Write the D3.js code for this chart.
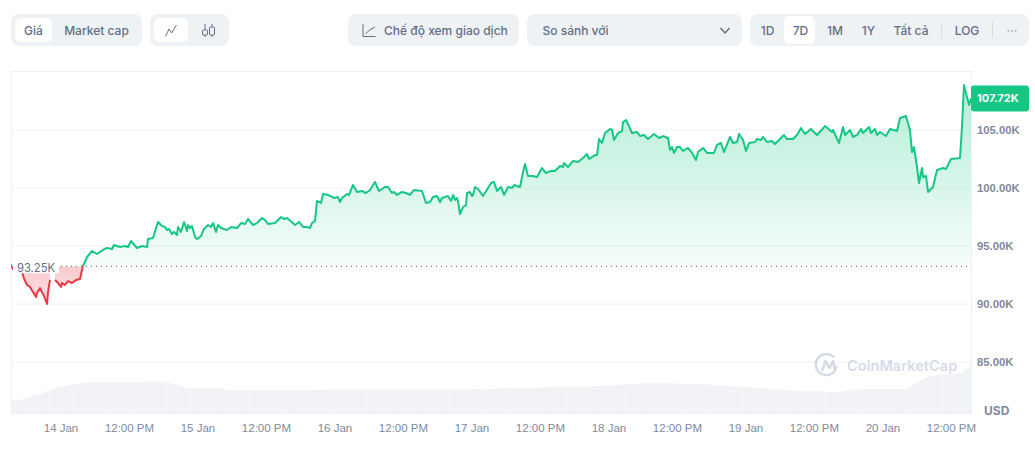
<!DOCTYPE html>
<html><head><meta charset="utf-8">
<script src="https://cdn.jsdelivr.net/npm/d3@7"></script>
<style>
html,body{margin:0;padding:0;background:#fff}
svg{display:block;font-family:Inter,"Noto Sans",sans-serif}
.domain,.tick line{display:none}
</style></head><body>
<svg id="c" width="1035" height="457"></svg>
<script>
// Hours since 14 Jan 00:00, and BTC price in thousands of USD (null = gap in the trace)
const priceHours=[-8.76,-8.41,-6.83,-6.48,-5.96,-5.43,-4.91,-4.38,-4.2,-3.68,-3.33,-2.98,-2.45,-2.28,-1.93,-1.49,-1.05,-.53,0,.18,.7,1.23,1.93,2.63,3.33,3.68,3.85,4.2,4.56,5.43,6.31,7.36,8.06,8.94,9.29,10.34,11.21,11.74,12.26,13.32,14.19,15.07,15.24,16.12,16.99,17.7,18.22,18.57,18.92,19.45,19.8,20.32,20.5,21.02,21.55,22.08,22.25,22.6,22.95,23.48,23.83,24.53,25.05,25.75,26.28,26.63,27.16,27.51,28.03,29.08,29.78,30.84,31.54,32.24,32.76,33.64,34.34,35.22,35.74,36.27,37.49,38.54,39.07,39.6,41,41.7,42.4,43.1,43.62,43.98,44.5,44.85,45.55,45.9,46.78,47.83,48.53,48.88,49.23,50.11,50.46,51.16,51.86,52.74,53.44,54.14,55.01,55.71,56.76,57.29,57.99,58.34,58.87,59.74,60.44,61.14,61.85,63.25,63.95,64.65,65.17,65.88,66.4,66.75,67.8,68.33,68.68,69.03,69.38,69.55,69.9,70.43,70.96,71.13,71.66,72.01,72.18,72.53,73.06,73.93,74.81,75.34,75.86,76.39,77.09,77.61,78.31,79.02,79.37,80.42,80.94,81.29,81.82,82.69,83.4,84.27,84.97,85.85,86.55,87.42,87.95,88.13,88.83,89.7,90.58,91.45,92.16,92.51,93.56,93.91,94.26,94.78,95.31,96.19,96.54,96.89,97.59,98.29,98.46,98.99,99.34,100.04,100.92,101.44,102.14,102.84,103.89,104.77,105.47,106.35,106.7,107.05,107.4,107.92,108.45,108.97,109.85,110.55,111.25,111.6,112.48,113.18,114.41,114.93,115.63,116.16,117.21,117.73,118.44,118.79,119.49,120.01,120.54,121.59,121.94,122.64,122.99,123.69,124.57,125.09,126.32,126.67,127.2,128.25,128.95,129.65,130.35,131.4,132.45,133.85,135.08,135.25,136.31,137.01,137.36,138.23,138.76,139.46,140.16,140.51,141.56,141.91,142.61,142.96,143.49,144.54,145.24,146.47,146.99,148.04,148.74,149.1,149.45,149.97,150.32,150.85,151.02,151.55,151.9,152.77,153.48,154.53,155.05,155.93,157.5,157.85,158.2,159.08,159.43];
const priceValues=[93.4,93,92.75,92.2,91.64,91.47,91.03,90.6,90.95,91.38,91.03,90.69,90,91,92.07,null,92.07,91.81,91.47,91.81,91.64,91.98,91.81,92.07,92.16,92.93,93.28,93.62,94.05,94.57,94.31,94.66,94.83,94.74,95.09,94.91,95,94.91,95.43,94.83,95,94.91,95.6,95.69,97.07,96.72,96.64,96.38,96.47,96.03,96.21,95.95,96.64,96.21,97.07,96.29,96.81,96.55,96.72,95.78,95.6,95.86,96.47,96.81,96.64,96.98,96.21,96.81,96.55,96.38,96.64,96.55,96.98,96.9,97.33,96.81,96.98,97.41,97.24,96.9,96.98,97.5,97.33,97.41,96.81,97.07,96.64,96.64,96.55,96.98,97.16,98.88,98.71,99.48,99.4,99.14,99.22,98.79,99.14,99.48,99.4,100.26,99.66,99.74,99.57,99.83,100.52,99.74,100.09,100.09,99.57,99.66,99.4,99.66,99.57,99.4,99.83,99.74,98.71,98.79,99.22,99.31,98.79,99.14,99.31,98.88,99.4,98.97,99.14,98.88,97.76,98.36,98.53,99.57,99.66,99.31,99.4,100.09,99.91,99.31,100,100.43,100.52,99.74,100.09,99.4,100.09,100,100.26,100.09,101.38,102.07,101.03,101.03,100.95,101.72,101.29,101.47,101.47,101.9,101.81,102.16,101.81,102.33,102.24,102.59,102.93,102.5,102.84,102.84,104.22,103.88,104.74,105.09,105,104.14,104.74,104.91,105.69,105.86,105.52,104.74,104.83,104.48,104.57,104.22,104.66,104.31,104.48,104.31,103.28,103.53,103.02,103.53,103.53,103.19,103.45,103.02,102.41,103.1,103.45,103.02,103.02,103.71,103.88,103.1,104.4,103.88,103.97,104.66,104.14,103.19,103.88,103.97,104.22,104.14,104.4,103.97,104.05,103.79,104.4,104.57,104.22,104.22,104.57,105.17,104.66,105.09,104.57,105.34,104.83,105,103.88,105.26,104.57,105,104.4,104.57,105.09,104.74,105.26,104.74,105.09,104.57,104.83,104.48,105.09,104.91,106.03,106.21,105,103.1,103.53,101.81,100.43,101.72,100.95,101.03,99.66,100.09,101.55,101.72,101.64,102.5,102.59,105.26,108.88,107.16,107.72];
// Volume trace (relative height, no readable unit in the picture)
const volumeHours=[-8.76,-7.18,-5.43,-3.68,-2.28,-.18,2.8,4.73,13.84,16.99,19.1,22.25,27.86,29.08,40.65,73.4,94.43,103.19,111.95,122.46,130,136.48,139.46,148.22,149.27,151.37,153.48,158.03,158.73,159.43];
const volumeValues=[13,14,17,20,23,27,30,32,32,33,31,26,26,24,24,25,28,31,30,26,23,22,25,25,29,36,39,41,46,49];
const yTicks=[105,100,95,90,85];
const dayLabels=["14 Jan","15 Jan","16 Jan","17 Jan","18 Jan","19 Jan","20 Jan"];
const baselineValue=93.25, lastValue=107.72;
const fmtK=v=>v.toFixed(2)+"K";

const GREEN="#16c784",RED="#ea3943",GRID="#eff2f5",AXIS="#808a9d",BTN="#616e85";
const L=11,R=971,T=71,B=414;
const svg=d3.select("#c");
const x=d3.scaleLinear().domain([-8.76,159.43]).range([L,R]);
const y=d3.scaleLinear().domain([85,105]).range([362,130]);
const yVol=d3.scaleLinear().domain([0,50]).range([B,364]);
const price=priceHours.map((h,i)=>({h,v:priceValues[i]}));
const vol=volumeHours.map((h,i)=>({h,v:volumeValues[i]}));
const by=y(baselineValue);

const defs=svg.append("defs");
function grad(id,y1,y2,c,o1,o2){const g=defs.append("linearGradient").attr("id",id).attr("gradientUnits","userSpaceOnUse").attr("x1",0).attr("x2",0).attr("y1",y1).attr("y2",y2);
 g.append("stop").attr("offset",0).attr("stop-color",c).attr("stop-opacity",o1);
 g.append("stop").attr("offset",1).attr("stop-color",c).attr("stop-opacity",o2);}
grad("gUp",y(lastValue+1.2),by,GREEN,.32,.04);
grad("gDn",by,y(90),RED,.26,.16);
defs.append("clipPath").attr("id","above").append("rect").attr("x",L).attr("y",T).attr("width",R-L+2).attr("height",by-T);
defs.append("clipPath").attr("id","below").append("rect").attr("x",L).attr("y",by).attr("width",R-L+2).attr("height",B-by);
const pat=defs.append("pattern").attr("id","volBars").attr("patternUnits","userSpaceOnUse").attr("x",L).attr("y",0).attr("width",4.76).attr("height",10);
pat.append("rect").attr("width",4.76).attr("height",10).attr("fill","#f0f2f5");
pat.append("rect").attr("x",3.96).attr("width",.8).attr("height",10).attr("fill","#f6f7f9");

// toolbar
const tb=svg.append("g");
function pill(x0,x1,y0,y1,fill,r){tb.append("rect").attr("x",x0).attr("y",y0).attr("width",x1-x0).attr("height",y1-y0).attr("rx",r).attr("fill",fill);}
function label(t,xp,anchor,col){tb.append("text").text(t).attr("x",xp).attr("y",34.5).attr("text-anchor",anchor||"middle").attr("font-size",12).attr("font-weight",500).attr("fill",col||BTN);}
pill(11,142,14,46,GRID,8);pill(15,52,18,42,"#fff",6);
label("Giá",33.5);label("Market cap",96.5);
pill(150,229,14,46,GRID,8);pill(154,188,18,42,"#fff",6);
tb.append("path").attr("d","M165.5 36.5L169 29L171.5 33L176.5 25").attr("fill","none").attr("stroke",BTN).attr("stroke-width",1);
tb.append("path").attr("d","M205 24V37M212 24V37").attr("stroke",BTN).attr("stroke-width",1);
tb.append("rect").attr("x",202.5).attr("y",30).attr("width",5).attr("height",5).attr("rx",1).attr("fill",GRID).attr("stroke",BTN);
tb.append("rect").attr("x",209.5).attr("y",27).attr("width",5).attr("height",8).attr("rx",1).attr("fill",GRID).attr("stroke",BTN);
pill(348,519,14,46,GRID,8);
tb.append("path").attr("d","M363 24V36.5H375.5M365.5 34L369.5 30L375 27").attr("fill","none").attr("stroke",BTN).attr("stroke-width",1);
label("Chế độ xem giao dịch",384,"start");
pill(527,742,14,46,GRID,8);
label("So sánh với",542.5,"start");
tb.append("path").attr("d","M720.5 28L725 33L729.5 28").attr("fill","none").attr("stroke",BTN).attr("stroke-width",1.5);
pill(750,1029,14,46,GRID,8);pill(784,815,16,44,"#fff",6);
[["1D",767.5],["7D",800.5],["1M",835],["1Y",868.5],["Tất cả",911],["LOG",967]].forEach(d=>label(d[0],d[1]));
[941,992].forEach(v=>tb.append("line").attr("x1",v+.5).attr("x2",v+.5).attr("y1",22).attr("y2",38).attr("stroke","#d5dae3"));
label("···",1012,"middle","#a6b0c3");

// frame + grid
const frame=svg.append("g").attr("fill","none").attr("stroke",GRID);
frame.append("line").attr("x1",L).attr("x2",R).attr("y1",T+.5).attr("y2",T+.5);
frame.append("line").attr("x1",L+.5).attr("x2",L+.5).attr("y1",T).attr("y2",B);
frame.append("line").attr("x1",R+.5).attr("x2",R+.5).attr("y1",T).attr("y2",B);
svg.append("g").selectAll("line").data(yTicks).join("line")
 .attr("x1",L).attr("x2",R).attr("y1",d=>y(d)).attr("y2",d=>y(d)).attr("stroke",GRID);

// volume
svg.append("path").datum(vol).attr("fill","url(#volBars)")
 .attr("d",d3.area().x(d=>x(d.h)).y0(B).y1(d=>yVol(d.v)));

// watermark
const wm=svg.append("g").attr("fill","none").attr("stroke","#d3dae6");
wm.append("path").attr("stroke-width",2.4).attr("stroke-linecap","round").attr("d","M836.5 367a10.5 10.5 0 1 1-3-10M818.5 370");
wm.append("path").attr("stroke-width",2.4).attr("stroke-linejoin","round").attr("d","M822 371L825.5 361L829.5 368L833 361L835 370");
svg.append("text").text("CoinMarketCap").attr("x",847).attr("y",371).attr("font-size",14.6).attr("font-weight",600).attr("fill","#d6dce8");

// area + line
const has=d=>d.v!=null;
const area=d3.area().defined(has).x(d=>x(d.h)).y0(by).y1(d=>y(d.v));
const line=d3.line().defined(has).x(d=>x(d.h)).y(d=>y(d.v));
svg.append("path").datum(price).attr("clip-path","url(#above)").attr("fill","url(#gUp)").attr("d",area);
svg.append("path").datum(price).attr("clip-path","url(#below)").attr("fill","url(#gDn)").attr("d",area);
svg.append("line").attr("x1",L).attr("x2",R).attr("y1",by).attr("y2",by).attr("stroke","#58667e").attr("stroke-width",1).attr("stroke-dasharray","1 4");
svg.append("path").datum(price).attr("clip-path","url(#above)").attr("fill","none").attr("stroke",GREEN).attr("stroke-width",2).attr("stroke-linejoin","round").attr("d",line);
svg.append("path").datum(price).attr("clip-path","url(#below)").attr("fill","none").attr("stroke",RED).attr("stroke-width",2).attr("stroke-linejoin","round").attr("d",line);

// baseline label
svg.append("rect").attr("x",13).attr("y",by-8).attr("width",46).attr("height",15).attr("fill","#fff");
svg.append("text").text(fmtK(baselineValue)).attr("x",17).attr("y",by+6).attr("font-size",11.2).attr("fill","#616e85");

// axes
const yAxis=d3.axisRight(y).tickValues(yTicks).tickSize(0).tickPadding(0).tickFormat(fmtK);
const ya=svg.append("g").attr("transform",`translate(977,0)`).call(yAxis);
ya.selectAll("text").attr("font-family","inherit").attr("font-size",11.3).attr("font-weight",600).attr("fill",AXIS);
const xTicks=[];dayLabels.forEach((d,i)=>{xTicks.push(i*24,i*24+12);});
const xAxis=d3.axisBottom(x).tickValues(xTicks).tickSize(0).tickPadding(0).tickFormat(h=>h%24===0?dayLabels[h/24]:"12:00 PM");
const xa=svg.append("g").attr("transform","translate(-0.5,424)").call(xAxis);
xa.selectAll("text").attr("font-family","inherit").attr("font-size",11.5).attr("fill",AXIS);
svg.append("text").text("USD").attr("x",984).attr("y",415).attr("font-size",12).attr("font-weight",700).attr("fill",AXIS);

// last price badge
const ly=y(lastValue);
svg.append("rect").attr("x",971).attr("y",ly-13).attr("width",58).attr("height",26).attr("rx",3).attr("fill",GREEN);
svg.append("text").text(fmtK(lastValue)).attr("x",977).attr("y",ly+4).attr("font-size",11).attr("font-weight",700).attr("fill","#fff");
</script></body></html>
